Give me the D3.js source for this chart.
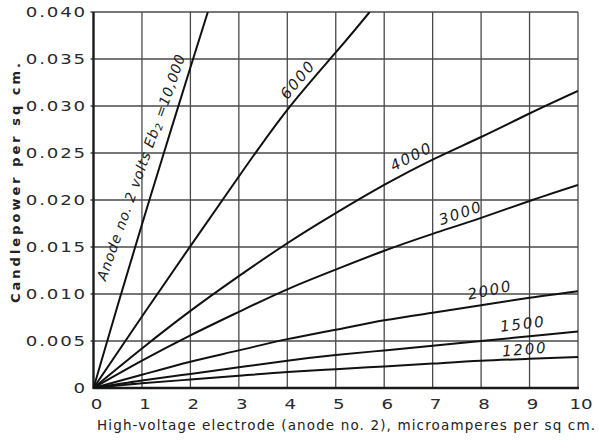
<!DOCTYPE html>
<html>
<head>
<meta charset="utf-8">
<script src="https://cdn.jsdelivr.net/npm/d3@7/dist/d3.min.js"></script>
<style>
  html, body { margin: 0; padding: 0; background: #fff; }
  svg { display: block; }
</style>
</head>
<body>
<svg id="chart" width="599" height="440"></svg>
<script>
// ---- data ----
const xTickValues = [0, 1, 2, 3, 4, 5, 6, 7, 8, 9, 10];
const xTickLabels = ["0", "1", "2", "3", "4", "5", "6", "7", "8", "9", "10"];
const yTickValues = [0, 0.005, 0.010, 0.015, 0.020, 0.025, 0.030, 0.035, 0.040];
const yTickLabels = ["0", "0.005", "0.010", "0.015", "0.020", "0.025", "0.030", "0.035", "0.040"];

const current10000 = [0, 0.5, 1, 1.5, 2, 2.36];
const cp10000 = [0, 0.0088, 0.0174, 0.0258, 0.0341, 0.040];
const current6000 = [0, 1, 2, 3, 4, 5, 5.7];
const cp6000 = [0, 0.0076, 0.0151, 0.0225, 0.0296, 0.0357, 0.040];
const currentFull = [0, 1, 2, 3, 4, 5, 6, 7, 8, 9, 10];
const cp4000 = [0, 0.0042, 0.0082, 0.0119, 0.0154, 0.0186, 0.0216, 0.0243, 0.0267, 0.0292, 0.0316];
const cp3000 = [0, 0.0029, 0.0056, 0.0081, 0.0105, 0.0126, 0.0146, 0.0164, 0.0181, 0.0199, 0.0216];
const cp2000 = [0, 0.0014, 0.0028, 0.0040, 0.0052, 0.0062, 0.0072, 0.0080, 0.0088, 0.0096, 0.0103];
const cp1500 = [0, 0.0008, 0.0015, 0.0022, 0.0029, 0.0035, 0.0040, 0.0045, 0.0050, 0.0055, 0.0060];
const cp1200 = [0, 0.0005, 0.0009, 0.0013, 0.0017, 0.0020, 0.0023, 0.0026, 0.0029, 0.0031, 0.0033];

const seriesNames = ["10000", "6000", "4000", "3000", "2000", "1500", "1200"];
const seriesX = [current10000, current6000, currentFull, currentFull, currentFull, currentFull, currentFull];
const seriesY = [cp10000, cp6000, cp4000, cp3000, cp2000, cp1500, cp1200];

// curve labels: text, centre in data units, rotation
const labelTexts = ["Anode no. 2 volts Eb", "6000", "4000", "3000", "2000", "1500", "1200"];
const labelX = [0.98, 4.22, 6.56, 7.58, 8.18, 8.86, 8.9];
const labelY = [0.0235, 0.0328, 0.0246, 0.0186, 0.0104, 0.0068, 0.0041];
const labelAngle = [-70.5, -50, -27, -19, -12, -7, -5];

const xTitle = "High-voltage electrode (anode no. 2), microamperes per sq cm.";
const yTitle = "Candlepower per sq cm.";

// ---- layout ----
const svg = d3.select("#chart");
const W = 599, H = 440;
const margin = { left: 93.5, right: 21, top: 12, bottom: 52 };
const x = d3.scaleLinear().domain([0, 10]).range([margin.left, W - margin.right]);
const y = d3.scaleLinear().domain([0, 0.04]).range([H - margin.bottom, margin.top]);

svg.append("rect").attr("width", W).attr("height", H).attr("fill", "#fff");

// grid
const grid = svg.append("g");
grid.selectAll("line.v").data(xTickValues.slice(1)).join("line")
  .attr("x1", d => x(d)).attr("x2", d => x(d))
  .attr("y1", y(0)).attr("y2", y(0.04))
  .attr("stroke", "#4a4a4a").attr("stroke-width", 1.3);
grid.selectAll("line.h").data(yTickValues.slice(1)).join("line")
  .attr("x1", x(0) - 3).attr("x2", x(10))
  .attr("y1", d => y(d)).attr("y2", d => y(d))
  .attr("stroke", "#4a4a4a").attr("stroke-width", 1.3);

// axes lines (left and bottom)
svg.append("line").attr("x1", x(0)).attr("x2", x(0)).attr("y1", y(0) + 1).attr("y2", y(0.04))
  .attr("stroke", "#1a1a1a").attr("stroke-width", 2.4);
svg.append("line").attr("x1", x(0)).attr("x2", x(10) + 1).attr("y1", y(0)).attr("y2", y(0))
  .attr("stroke", "#1a1a1a").attr("stroke-width", 2.4);

const fontTick = "'DejaVu Sans', sans-serif";
const sx = 1.3; // wide lettering

// tick labels
svg.append("g").selectAll("text").data(xTickValues).join("text")
  .attr("transform", d => `translate(${x(d) + 3},409) scale(${sx},1)`)
  .attr("text-anchor", "middle")
  .attr("font-family", fontTick).attr("font-size", 14)
  .attr("fill", "#2a2a2a")
  .text((d, i) => xTickLabels[i]);

svg.append("g").selectAll("text").data(yTickValues).join("text")
  .attr("transform", d => `translate(87,${y(d) + 5}) scale(${sx},1)`)
  .attr("text-anchor", "end")
  .attr("font-family", fontTick).attr("font-size", 14)
  .attr("letter-spacing", 1.4)
  .attr("fill", "#2a2a2a")
  .text((d, i) => yTickLabels[i]);

// axis titles
svg.append("text")
  .attr("x", 97).attr("y", 430)
  .attr("font-family", fontTick).attr("font-size", 13.5)
  .attr("textLength", 498).attr("lengthAdjust", "spacing")
  .attr("fill", "#222")
  .text(xTitle);

svg.append("text")
  .attr("transform", "translate(20,183) rotate(-90)")
  .attr("text-anchor", "middle")
  .attr("font-family", fontTick).attr("font-size", 13).attr("font-weight", "bold")
  .attr("textLength", 240).attr("lengthAdjust", "spacing")
  .attr("fill", "#222")
  .text(yTitle);

// curves
const line = d3.line()
  .x(d => x(d[0]))
  .y(d => y(d[1]))
  .curve(d3.curveNatural);

svg.append("clipPath").attr("id", "plotclip").append("rect")
  .attr("x", x(0)).attr("y", y(0.04)).attr("width", x(10) - x(0)).attr("height", y(0) - y(0.04));

svg.append("g").attr("clip-path", "url(#plotclip)")
  .selectAll("path").data(seriesNames).join("path")
  .attr("d", (d, i) => line(seriesX[i].map((v, j) => [v, seriesY[i][j]])))
  .attr("fill", "none")
  .attr("stroke", "#111")
  .attr("stroke-width", 2);

// curve labels
const lab = svg.append("g").selectAll("text").data(labelTexts).join("text")
  .attr("transform", (d, i) => `translate(${x(labelX[i])},${y(labelY[i])}) rotate(${labelAngle[i]})`)
  .attr("text-anchor", "middle")
  .attr("dominant-baseline", "central")
  .attr("font-family", fontTick)
  .attr("font-style", "italic")
  .attr("font-size", (d, i) => i === 0 ? 14 : 15)
  .attr("letter-spacing", (d, i) => i === 0 ? 0.8 : 1.8)
  .attr("fill", "#1a1a1a")
  .text(d => d);

// subscript and value for the first label
const first = lab.filter((d, i) => i === 0);
first.append("tspan").attr("font-size", 10).attr("dy", 3).text("2");
first.append("tspan").attr("dy", -3).text(" =10,000");
</script>
</body>
</html>
